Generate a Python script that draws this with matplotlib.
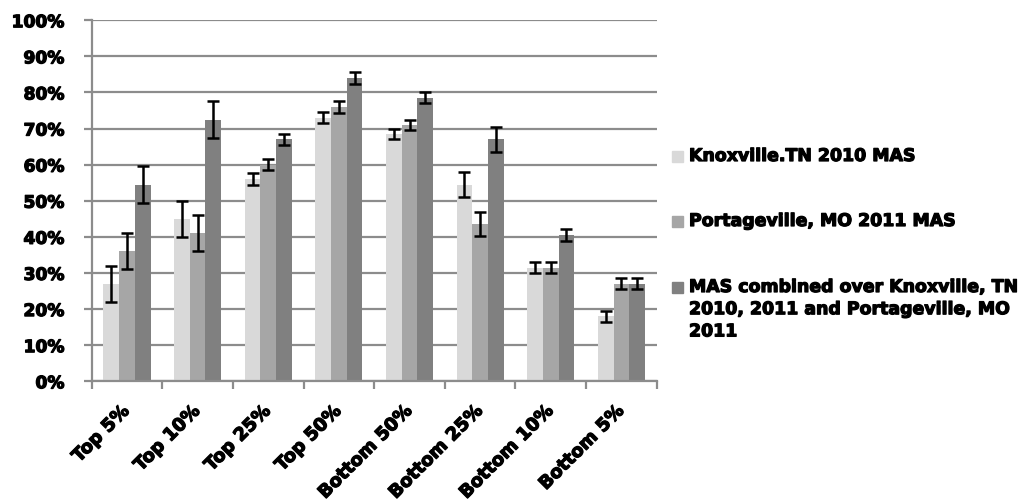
import numpy as np
import matplotlib.pyplot as plt
import matplotlib.transforms as mtransforms
import matplotlib.patheffects as pe
from matplotlib.patches import Rectangle

categories = ['Top 5%', 'Top 10%', 'Top 25%', 'Top 50%',
              'Bottom 50%', 'Bottom 25%', 'Bottom 10%', 'Bottom 5%']
series_names = ['Knoxville.TN 2010 MAS',
                'Portageville, MO 2011 MAS',
                'MAS combined over Knoxville, TN\n2010, 2011 and Portageville, MO\n2011']
knox_2010 = [27, 45, 56, 73, 68.5, 54.5, 31.5, 18]
portage_2011 = [36, 41, 60, 76, 71, 43.5, 31.5, 27]
combined = [54.5, 72.5, 67, 84, 78.5, 67, 40.5, 27]
knox_err = [5, 5, 1.6, 1.6, 1.5, 3.4, 1.5, 1.5]
portage_err = [5, 5, 1.6, 1.6, 1.5, 3.4, 1.5, 1.5]
combined_err = [5, 5, 1.6, 1.6, 1.5, 3.4, 1.6, 1.5]

colors = ['#d9d9d9', '#a6a6a6', '#808080']
grid_col = '#8c8c8c'

plt.rcParams['font.family'] = ['DejaVu Sans']
heavy = [pe.withStroke(linewidth=0.9, foreground='black')]

fig = plt.figure(figsize=(10.21, 5.01), dpi=100)
ax = fig.add_axes([0.0898, 0.239, 0.5534, 0.7206])

x = np.arange(len(categories))
w = 0.222
values = [knox_2010, portage_2011, combined]
errs = [knox_err, portage_err, combined_err]
for i in range(3):
    ax.bar(x + (i - 1) * w, values[i], w, color=colors[i], zorder=2,
           yerr=errs[i], capsize=4,
           error_kw=dict(ecolor='black', elinewidth=1.8, capthick=1.8, zorder=3))

ax.set_xlim(-0.5, len(categories) - 0.5)
ax.set_ylim(0, 100)
ax.set_yticks(np.arange(0, 101, 10))
ax.set_yticklabels([f'{v}%' for v in range(0, 101, 10)], fontsize=12.3,
                   fontweight='bold', path_effects=heavy)
ax.yaxis.grid(True, color=grid_col, linewidth=1.6, zorder=0)
ax.set_axisbelow(True)

ax.set_xticks(x)
ax.set_xticklabels(categories, rotation=45, ha='right', va='top',
                   rotation_mode='anchor', fontsize=13, fontweight='bold',
                   path_effects=heavy)
ax.set_xticks(np.arange(-0.5, len(categories)), minor=True)
ax.tick_params(axis='x', which='major', length=0, pad=15)
ax.tick_params(axis='x', which='minor', length=6, width=1.6, color=grid_col)
ax.tick_params(axis='y', length=6, width=1.6, color=grid_col, pad=13.5)

offset = mtransforms.ScaledTranslation(-5 / 72, 0, fig.dpi_scale_trans)
for lab in ax.get_xticklabels():
    lab.set_transform(lab.get_transform() + offset)

for side in ['top', 'right']:
    ax.spines[side].set_visible(False)
for side in ['left', 'bottom']:
    ax.spines[side].set_color(grid_col)
    ax.spines[side].set_linewidth(1.6)

# legend on the right
leg_y = [156, 221, 287]
for i in range(3):
    yy = 1 - leg_y[i] / 501
    fig.patches.append(Rectangle((672 / 1021, yy - 5.5 / 501), 11 / 1021, 11 / 501,
                                 transform=fig.transFigure, color=colors[i]))
    if '\n' in series_names[i]:
        fig.text(689 / 1021, yy + 9 / 501, series_names[i], fontsize=12.5,
                 fontweight='bold', va='top', linespacing=1.3, path_effects=heavy)
    else:
        fig.text(689 / 1021, yy, series_names[i], fontsize=12.5,
                 fontweight='bold', va='center', path_effects=heavy)

fig.savefig('out.png', dpi=100)
